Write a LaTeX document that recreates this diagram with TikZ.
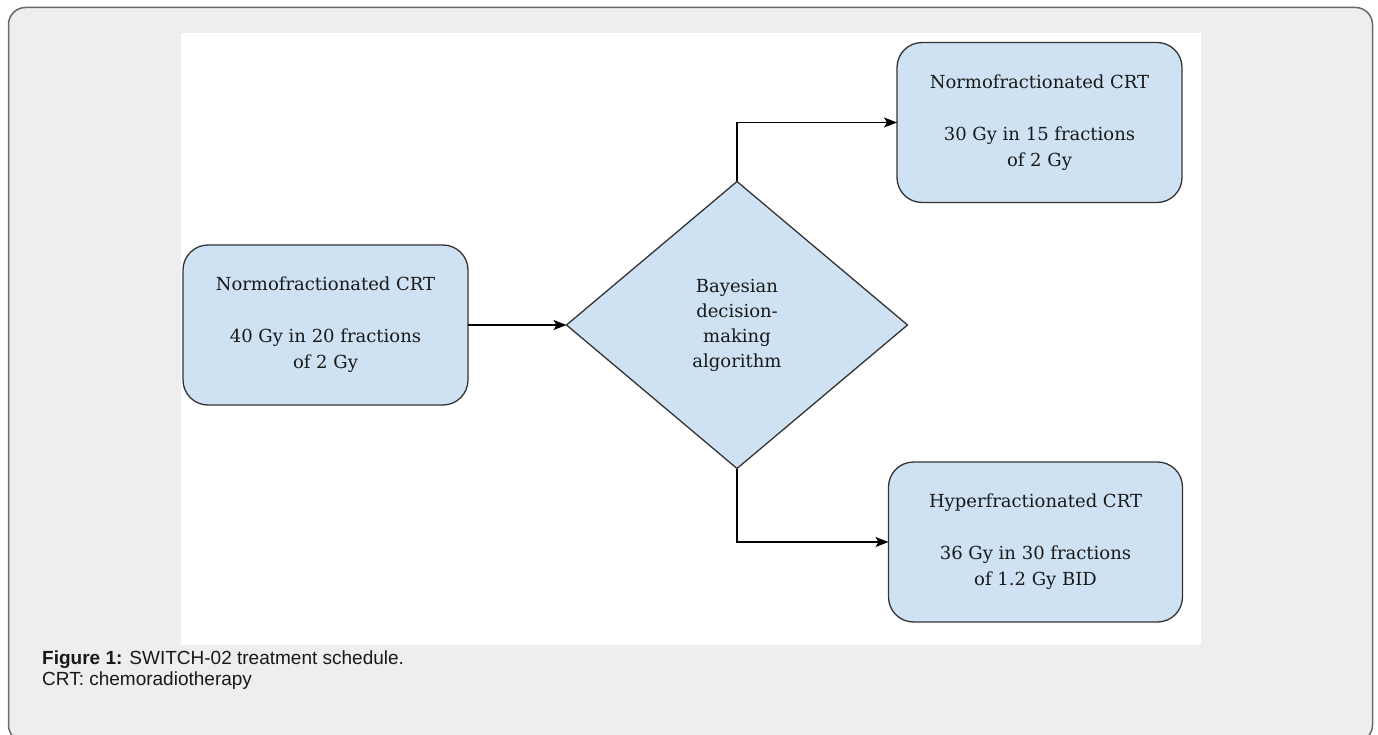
\documentclass[tikz,border=0pt]{standalone}
\usepackage{fontspec}
\setmainfont{DejaVu Serif}
\setsansfont{Liberation Sans}
\usepackage{tikz}
\usetikzlibrary{shapes,arrows.meta,backgrounds,%
positioning,calc%
}
\definecolor{boxblue}{RGB}{207,226,243}
\definecolor{boxline}{RGB}{51,51,51}
\definecolor{framefill}{RGB}{238,238,238}
\definecolor{frameline}{RGB}{105,105,105}
\definecolor{captext}{RGB}{25,25,25}

\begin{document}
\begin{tikzpicture}[x=1pt,y=-1pt,
    armbox/.style={draw=boxline,fill=boxblue,line width=1.3pt,rounded corners=25pt,
      minimum width=285pt,minimum height=160pt,align=center,outer sep=0pt,
      text=captext,font=\fontsize{18}{26}\selectfont},
    decision/.style={diamond,draw=boxline,fill=boxblue,line width=1.3pt,
      minimum width=341pt,minimum height=287pt,inner sep=0pt,outer sep=0pt,
      align=center,text=captext,font=\fontsize{18}{25}\selectfont},
    flow/.style={-{Stealth[length=13pt,width=10pt,inset=3pt]},line width=1.3pt},
    captxt/.style={font=\sffamily\fontsize{19}{21}\selectfont,text=captext,
      anchor=base west,inner sep=0pt}]
      \useasboundingbox (0,0) rectangle (1378,735);

      \draw[fill=framefill,draw=frameline,line width=1.5pt,rounded corners=17pt]
        (8.5,7.5) rectangle (1372.5,742);
      \fill[white] (181,33) rectangle (1201,645);

      \coordinate (s) at (325.5,325);
      \coordinate (d) at (737,325);
      \coordinate (n) at (1039.5,122.5);
      \coordinate (h) at (1035.5,542);

      \node[armbox] (start) at (s) {Normofractionated CRT\\[26pt]40 Gy in 20 fractions\\of 2 Gy};
      \node[decision] (bayes) at (d) {Bayesian\\decision-\\making\\algorithm};
      \node[armbox] (normo) at (n) {Normofractionated CRT\\[26pt]30 Gy in 15 fractions\\of 2 Gy};
      \node[armbox,minimum width=294pt] (hyper) at (h) {Hyperfractionated CRT\\[26pt]36 Gy in 30 fractions\\of 1.2 Gy BID};

      \draw[flow] (start) -- (bayes);
      \draw[flow] (bayes.north) |- (normo.west);
      \draw[flow] (bayes.south) |- (hyper.west);

      \node[captxt] (figcap) at (42,664) {\textbf{Figure 1:} SWITCH-02 treatment schedule.};
      \node[captxt] (crtnote) at (42,685) {CRT: chemoradiotherapy};
    \end{tikzpicture}
\end{document}
